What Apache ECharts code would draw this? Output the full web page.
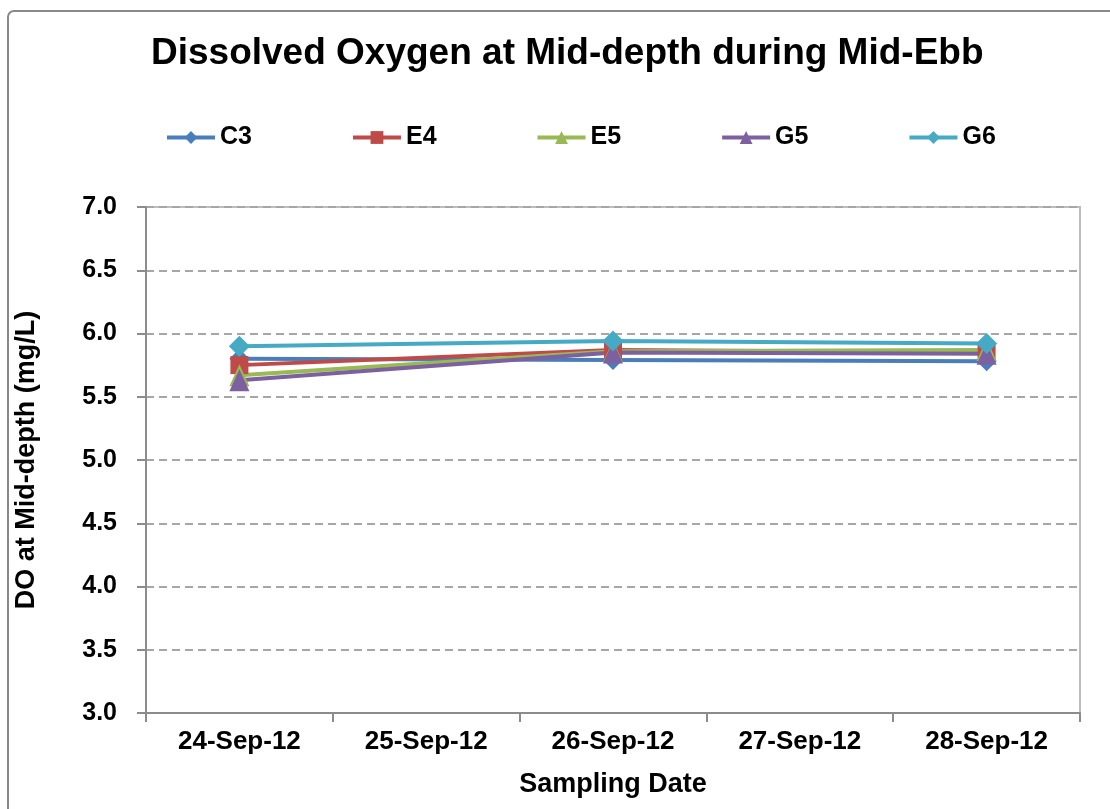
<!DOCTYPE html>
<html>
<head>
<meta charset="utf-8">
<script src="https://cdn.jsdelivr.net/npm/echarts@6/dist/echarts.min.js"></script>
<style>html,body{margin:0;padding:0;background:#fff;}#c{width:1110px;height:809px;}</style>
</head>
<body>
<div id="c"></div>
<script>
var categories = ['24-Sep-12', '25-Sep-12', '26-Sep-12', '27-Sep-12', '28-Sep-12'];
var C3 = [5.80, null, 5.79, null, 5.78];
var E4 = [5.75, null, 5.87, null, 5.85];
var E5 = [5.67, null, 5.86, null, 5.87];
var G5 = [5.63, null, 5.85, null, 5.84];
var G6 = [5.90, null, 5.94, null, 5.92];
var seriesNames = ['C3', 'E4', 'E5', 'G5', 'G6'];
var seriesData = [C3, E4, E5, G5, G6];
var colors = ['#4A7EBB', '#BE4B48', '#98B954', '#7D60A0', '#46AAC5'];
var symbols = ['diamond', 'rect', 'triangle', 'triangle', 'diamond'];
var symbolSizes = [[20, 20], [18, 18], [20, 22], [20, 22], [21, 21]];
var font = '"Liberation Sans", Arial, sans-serif';

var chart = echarts.init(document.getElementById('c'), null, {renderer: 'canvas'});
var series = seriesNames.map(function (n, i) {
  return {
    name: n, type: 'line', data: seriesData[i], connectNulls: true,
    symbol: symbols[i], symbolSize: symbolSizes[i], showAllSymbol: true,
    lineStyle: {width: 4, color: colors[i]},
    itemStyle: {color: colors[i]},
    emphasis: {disabled: true}, animation: false
  };
});
chart.setOption({
  animation: false,
  color: colors,
  graphic: [{
    type: 'rect', shape: {x: 8, y: 11, width: 1110, height: 810, r: 6},
    style: {fill: 'none', stroke: '#888', lineWidth: 2}, z: -1
  }],
  title: {
    text: 'Dissolved Oxygen at Mid-depth during Mid-Ebb', left: 146, top: 30,
    textStyle: {fontFamily: font, fontSize: 37, fontWeight: 'bold', color: '#000'}
  },
  legend: {
    top: 120, left: 160, itemGap: 99, itemWidth: 48, itemHeight: 16,
    lineStyle: {width: 4},
    textStyle: {fontFamily: font, fontSize: 25, fontWeight: 'bold', color: '#000'},
    data: seriesNames
  },
  grid: {left: 146, right: 30, top: 207, bottom: 96, show: true, borderColor: '#BDBDBD', borderWidth: 2},
  xAxis: {
    type: 'category', data: categories, boundaryGap: true,
    name: 'Sampling Date', nameLocation: 'middle', nameGap: 58,
    nameTextStyle: {fontFamily: font, fontSize: 27, fontWeight: 'bold', color: '#000'},
    axisLine: {lineStyle: {color: '#8C8C8C', width: 2}},
    axisTick: {show: true, length: 9, lineStyle: {color: '#8C8C8C', width: 2}},
    axisLabel: {fontFamily: font, fontSize: 26, fontWeight: 'bold', color: '#000', margin: 16}
  },
  yAxis: {
    type: 'value', min: 3, max: 7, interval: 0.5,
    name: 'DO at Mid-depth (mg/L)', nameLocation: 'middle', nameGap: 106,
    nameTextStyle: {fontFamily: font, fontSize: 27, fontWeight: 'bold', color: '#000'},
    axisLine: {show: true, lineStyle: {color: '#8C8C8C', width: 2}},
    axisTick: {show: true, length: 9, lineStyle: {color: '#8C8C8C', width: 2}},
    axisLabel: {fontFamily: font, fontSize: 25, fontWeight: 'bold', color: '#000', margin: 29,
      formatter: function (v) { return v.toFixed(1); }},
    splitLine: {show: true, lineStyle: {color: '#A6A6A6', width: 2, type: [8, 5]}}
  },
  series: series
});
</script>
</body>
</html>
